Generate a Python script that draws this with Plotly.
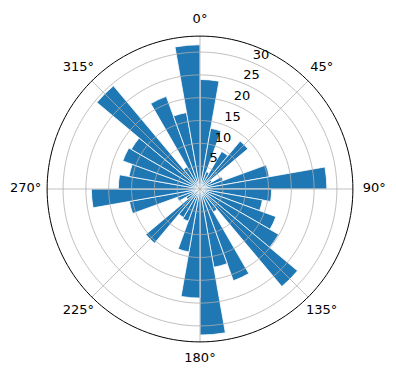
import plotly.graph_objects as go

# bin centres (degrees, clockwise from north) and bar lengths
directions = [5, 15, 25, 35, 45, 55, 65, 75, 85, 95, 105, 115, 125, 135, 145, 155, 165, 175,
              185, 195, 205, 215, 225, 235, 245, 255, 265, 275, 285, 295, 305, 315, 325, 335, 345, 355]
values = [24.0, 13.5, 4.0, 9.5, 13.7, 3.0, 5.4, 15.4, 27.8, 15.7, 13.9, 17.7, 19.9, 27.9, 5.8, 21.4, 17.4, 32.0,
          23.9, 14.0, 7.5, 7.2, 15.5, 3.5, 5.3, 15.7, 23.8, 17.9, 15.8, 18.0, 17.4, 29.5, 5.6, 21.6, 17.0, 31.6]
bin_width = 10
radial_ticks = [5, 10, 15, 20, 25, 30]
r_max = 33.5          # visible frame radius
angle_ticks = [0, 45, 90, 135, 180, 225, 270, 315]
angle_labels = ["0°", "45°", "90°", "135°", "180°", "225°", "270°", "315°"]
angle_label_r = [37.1, 37.7, 38.2, 37.7, 37.1, 37.7, 38.2, 37.7]

GRID = "#b0b0b0"
R_AXIS = 39.0         # axis range, leaves room for the angle labels
PX_PER_UNIT = 4.56    # reference scale
CX, CY = 200, 189     # reference centre
W, H = 396, 380
rad_px = R_AXIS * PX_PER_UNIT

fig = go.Figure(go.Barpolar(
    r=values,
    theta=directions,
    width=[bin_width] * len(values),
    marker=dict(color="#1f77b4", line=dict(color="white", width=0.8)),
    hoverinfo="r+theta",
))

# grid drawn above the bars (as matplotlib does)
circle_theta = list(range(0, 361, 2))
for t in radial_ticks:
    fig.add_trace(go.Scatterpolar(r=[t] * len(circle_theta), theta=circle_theta, mode="lines",
                                  line=dict(color=GRID, width=0.8), hoverinfo="skip"))
for a in angle_ticks:
    fig.add_trace(go.Scatterpolar(r=[0, r_max], theta=[a, a], mode="lines",
                                  line=dict(color=GRID, width=0.8), hoverinfo="skip"))
# outer frame
fig.add_trace(go.Scatterpolar(r=[r_max] * len(circle_theta), theta=circle_theta, mode="lines",
                              line=dict(color="black", width=1), hoverinfo="skip"))

# radial tick labels, horizontal, near the 22.5° direction
fig.add_trace(go.Scatterpolar(r=[t + 2.2 for t in radial_ticks], theta=[24.5] * len(radial_ticks),
                              mode="text", text=[str(t) for t in radial_ticks],
                              textfont=dict(size=13, color="black"), hoverinfo="skip"))

# angular tick labels outside the frame
fig.add_trace(go.Scatterpolar(r=angle_label_r, theta=angle_ticks,
                              mode="text", text=angle_labels, cliponaxis=False,
                              textfont=dict(size=13, color="black"), hoverinfo="skip"))

fig.update_layout(
    width=W, height=H,
    margin=dict(l=CX - rad_px, r=W - CX - rad_px, t=CY - rad_px, b=H - CY - rad_px),
    paper_bgcolor="white",
    showlegend=False,
    font=dict(family="DejaVu Sans", size=13, color="black"),
    polar=dict(
        bgcolor="rgba(0,0,0,0)",
        angularaxis=dict(
            rotation=90, direction="clockwise",
            showgrid=False, showticklabels=False, showline=False, ticks="",
        ),
        radialaxis=dict(
            range=[0, R_AXIS], showgrid=False, showline=False, ticks="", showticklabels=False,
        ),
    ),
)

fig.write_html("out.html")
